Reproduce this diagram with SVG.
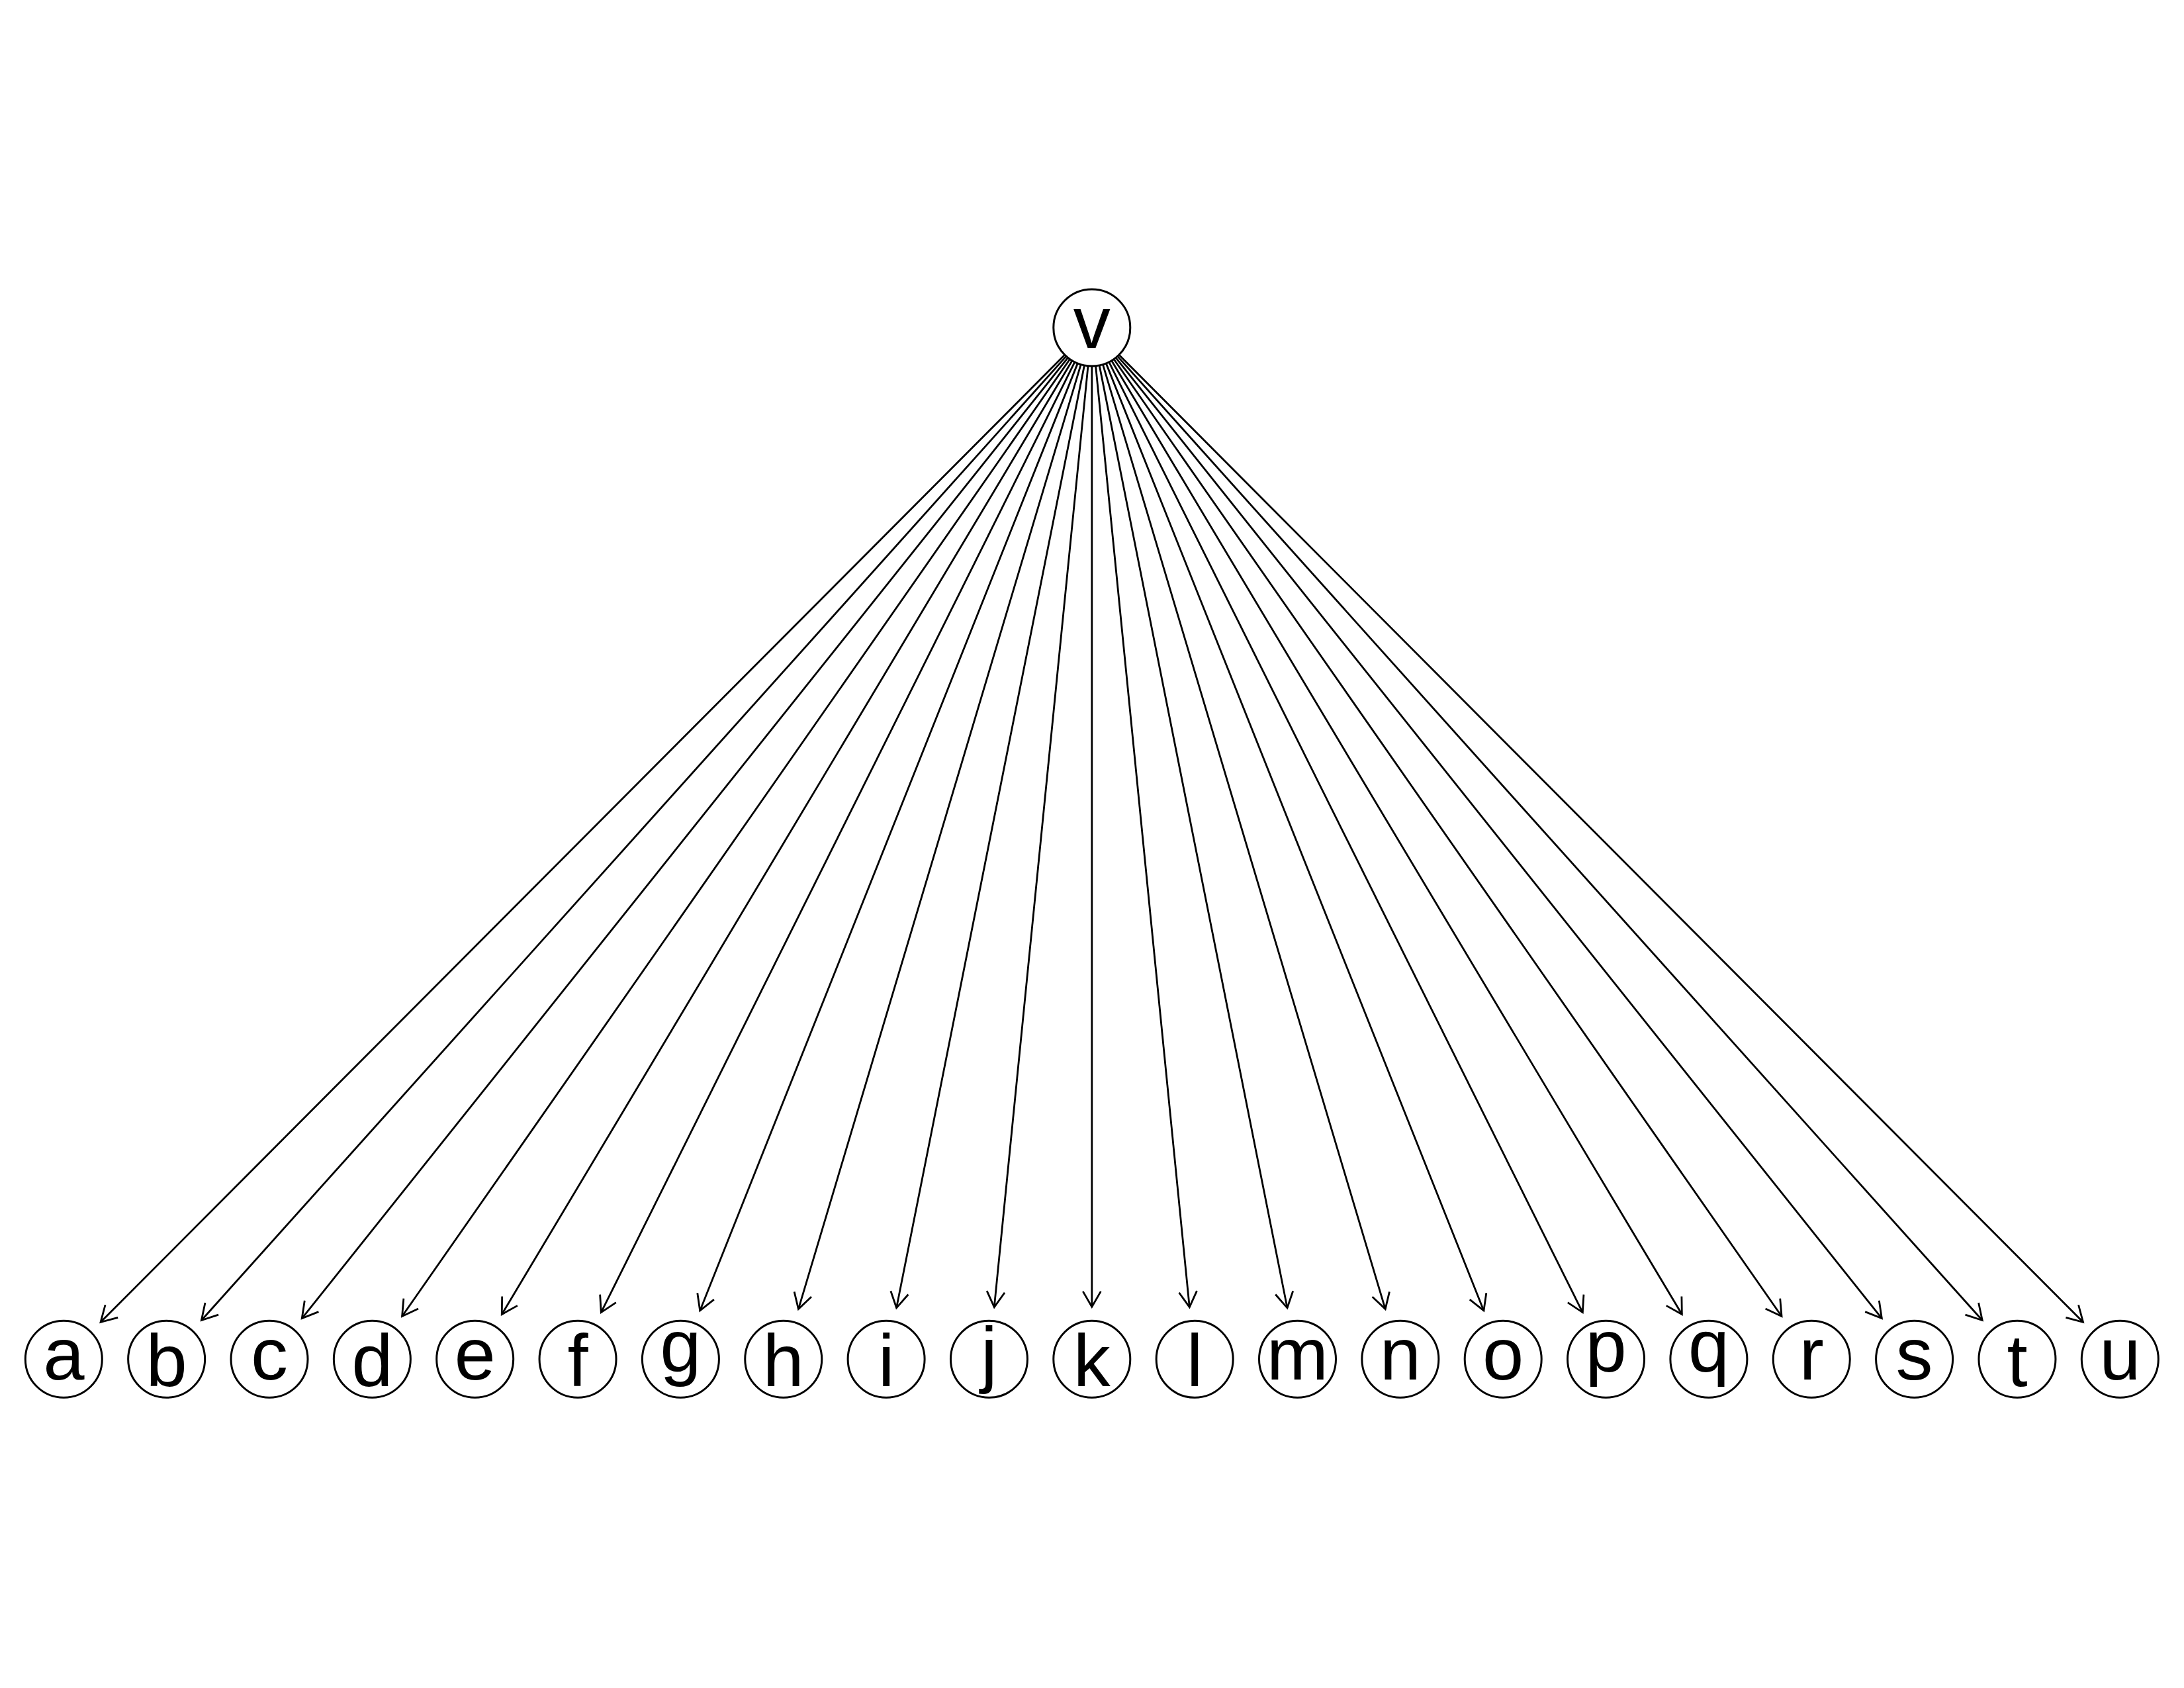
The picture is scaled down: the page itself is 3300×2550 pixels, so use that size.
<svg xmlns="http://www.w3.org/2000/svg" width="3300" height="2550" viewBox="0 0 3300 2550">
<style>
.node circle{fill:#fff;stroke:#000;stroke-width:3}
.node text{font-family:"Liberation Sans",Arial,sans-serif;font-size:112px;text-anchor:middle;fill:#000}
.edges line{stroke:#000;stroke-width:2.8;marker-end:url(#arr)}
</style>
<defs>
<marker id="arr" markerUnits="userSpaceOnUse" orient="auto" refX="0" refY="0" markerWidth="40" markerHeight="40" overflow="visible">
<path d="M-23.4,-13.5 L0,0 L-23.4,13.5" fill="none" stroke="#000" stroke-width="2.8"/>
</marker>
</defs>
<rect width="3300" height="2550" fill="#fff"/>
<g id="edges" class="edges">
<line x1="1608.85" y1="536.08" x2="152.08" y2="1997.35"/>
<line x1="1611.07" y1="538.17" x2="304.41" y2="1994.5"/>
<line x1="1613.64" y1="540.34" x2="456.26" y2="1991.54"/>
<line x1="1616.61" y1="542.56" x2="607.56" y2="1988.51"/>
<line x1="1620.03" y1="544.78" x2="758.25" y2="1985.5"/>
<line x1="1623.93" y1="546.91" x2="908.29" y2="1982.6"/>
<line x1="1628.32" y1="548.87" x2="1057.66" y2="1979.92"/>
<line x1="1633.18" y1="550.57" x2="1206.39" y2="1977.61"/>
<line x1="1638.46" y1="551.88" x2="1354.55" y2="1975.82"/>
<line x1="1644.05" y1="552.71" x2="1502.29" y2="1974.69"/>
<line x1="1649.8" y1="553" x2="1649.8" y2="1974.3"/>
<line x1="1655.55" y1="552.71" x2="1797.31" y2="1974.69"/>
<line x1="1661.14" y1="551.88" x2="1945.05" y2="1975.82"/>
<line x1="1666.42" y1="550.57" x2="2093.21" y2="1977.61"/>
<line x1="1671.28" y1="548.87" x2="2241.94" y2="1979.92"/>
<line x1="1675.67" y1="546.91" x2="2391.31" y2="1982.6"/>
<line x1="1679.57" y1="544.78" x2="2541.35" y2="1985.5"/>
<line x1="1682.99" y1="542.56" x2="2692.04" y2="1988.51"/>
<line x1="1685.96" y1="540.34" x2="2843.34" y2="1991.54"/>
<line x1="1688.53" y1="538.17" x2="2995.19" y2="1994.5"/>
<line x1="1690.75" y1="536.08" x2="3147.52" y2="1997.35"/>
</g>
<g id="node-v" class="node"><circle cx="1649.8" cy="495" r="58"/><text x="1649.8" y="526">v</text></g>
<g id="node-a" class="node"><circle cx="96.3" cy="2053.3" r="58"/><text x="96.3" y="2084">a</text></g>
<g id="node-b" class="node"><circle cx="251.65" cy="2053.3" r="58"/><text x="251.65" y="2094">b</text></g>
<g id="node-c" class="node"><circle cx="407" cy="2053.3" r="58"/><text x="407" y="2084">c</text></g>
<g id="node-d" class="node"><circle cx="562.35" cy="2053.3" r="58"/><text x="562.35" y="2094">d</text></g>
<g id="node-e" class="node"><circle cx="717.7" cy="2053.3" r="58"/><text x="717.7" y="2084">e</text></g>
<g id="node-f" class="node"><circle cx="873.05" cy="2053.3" r="58"/><text x="873.05" y="2094">f</text></g>
<g id="node-g" class="node"><circle cx="1028.4" cy="2053.3" r="58"/><text x="1028.4" y="2072">g</text></g>
<g id="node-h" class="node"><circle cx="1183.75" cy="2053.3" r="58"/><text x="1183.75" y="2094">h</text></g>
<g id="node-i" class="node"><circle cx="1339.1" cy="2053.3" r="58"/><text x="1339.1" y="2094">i</text></g>
<g id="node-j" class="node"><circle cx="1494.45" cy="2053.3" r="58"/><text x="1494.45" y="2083">j</text></g>
<g id="node-k" class="node"><circle cx="1649.8" cy="2053.3" r="58"/><text x="1649.8" y="2094">k</text></g>
<g id="node-l" class="node"><circle cx="1805.15" cy="2053.3" r="58"/><text x="1805.15" y="2094">l</text></g>
<g id="node-m" class="node"><circle cx="1960.5" cy="2053.3" r="58"/><text x="1960.5" y="2084">m</text></g>
<g id="node-n" class="node"><circle cx="2115.85" cy="2053.3" r="58"/><text x="2115.85" y="2084">n</text></g>
<g id="node-o" class="node"><circle cx="2271.2" cy="2053.3" r="58"/><text x="2271.2" y="2084">o</text></g>
<g id="node-p" class="node"><circle cx="2426.55" cy="2053.3" r="58"/><text x="2426.55" y="2072">p</text></g>
<g id="node-q" class="node"><circle cx="2581.9" cy="2053.3" r="58"/><text x="2581.9" y="2072">q</text></g>
<g id="node-r" class="node"><circle cx="2737.25" cy="2053.3" r="58"/><text x="2737.25" y="2084">r</text></g>
<g id="node-s" class="node"><circle cx="2892.6" cy="2053.3" r="58"/><text x="2892.6" y="2084">s</text></g>
<g id="node-t" class="node"><circle cx="3047.95" cy="2053.3" r="58"/><text x="3047.95" y="2094">t</text></g>
<g id="node-u" class="node"><circle cx="3203.3" cy="2053.3" r="58"/><text x="3203.3" y="2084">u</text></g>
</svg>
